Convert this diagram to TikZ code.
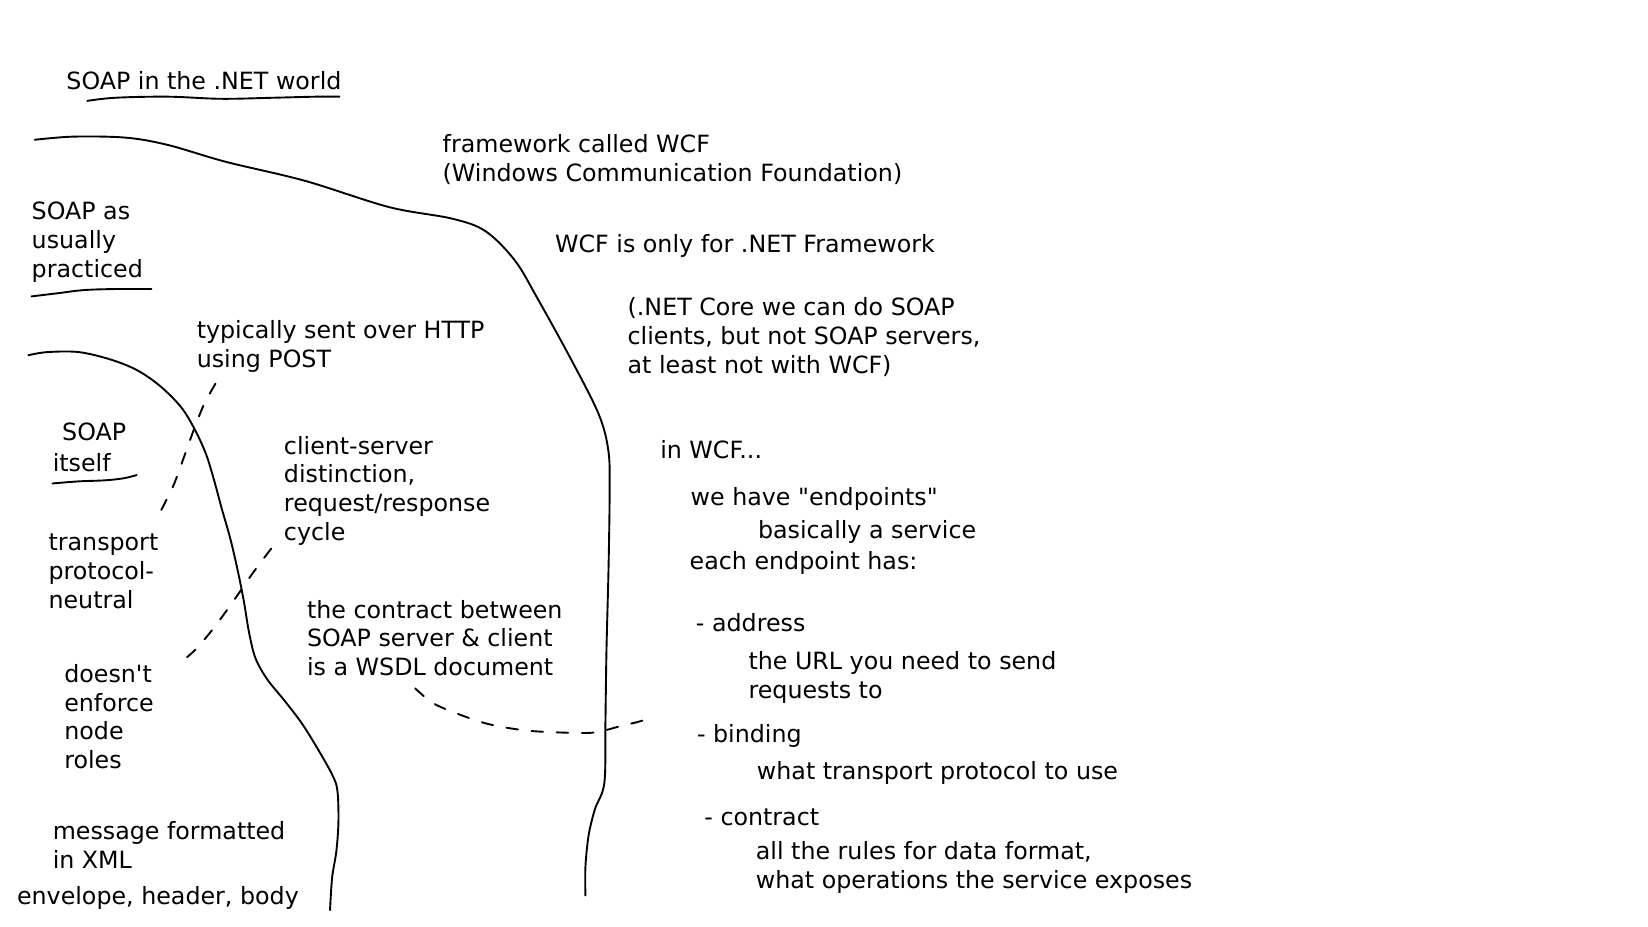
\documentclass[tikz,border=0pt]{standalone}
\usepackage{fontspec}
\setmainfont{DejaVu Sans}[Ligatures=TeXOff]
\begin{document}
\begin{tikzpicture}[x=1pt,y=-1pt,
  txt/.style={anchor=base west,inner sep=0pt,align=left,font=\fontsize{22.6pt}{27.5pt}\selectfont},
  pen/.style={line width=1.8pt,line cap=round,line join=round},
  dsh/.style={pen,dash pattern=on 11pt off 13pt}]
\useasboundingbox[fill=white] (0,0) rectangle (1568,882);
% texts (anchor = baseline of last line)
\node[txt] (t1) at (63,85) {SOAP in the .NET world};
\node[txt] (t2) at (421,172.5) {framework called WCF\\(Windows Communication Foundation)};
\node[txt] (t3) at (528,240) {WCF is only for .NET Framework};
\node[txt] (t4) at (597,355) {(.NET Core we can do SOAP\\clients, but not SOAP servers,\\at least not with WCF)};
\node[txt] (t5) at (30,264) {SOAP as\\usually\\practiced};
\node[txt] (t6) at (187,349.5) {typically sent over HTTP\\using POST};
\node[txt] (t7a) at (59,419) {SOAP};
\node[txt] (t7b) at (50,449) {itself};
\node[txt] (t8) at (270,514.5) {client-server\\distinction,\\request/response\\cycle};
\node[txt] (t9) at (46,579) {transport\\protocol-\\neutral};
\node[txt] (t10) at (292,643) {the contract between\\SOAP server \& client\\is a WSDL document};
\node[txt] (t11) at (61,731.5) {doesn't\\enforce\\node\\roles};
\node[txt] (t12) at (50,826.5) {message formatted\\in XML};
\node[txt] (t13) at (16,861) {envelope, header, body};
\node[txt] (t14) at (628,436) {in WCF...};
\node[txt] (t15) at (657,481) {we have "endpoints"};
\node[txt] (t16) at (721,512) {basically a service};
\node[txt] (t17) at (656,542) {each endpoint has:};
\node[txt] (t18) at (662,601) {- address};
\node[txt] (t19) at (712,664.5) {the URL you need to send\\requests to};
\node[txt] (t20) at (663,706) {- binding};
\node[txt] (t21) at (720,742) {what transport protocol to use};
\node[txt] (t22) at (670,785) {- contract};
\node[txt] (t23) at (719,845.5) {all the rules for data format,\\what operations the service exposes};
% underlines
\draw[pen] plot[smooth,tension=0.6] coordinates {(83,96) (110,93) (160,92) (210,94) (260,93) (300,92) (323,92)};
\draw[pen] plot[smooth,tension=0.6] coordinates {(30,282) (55,279) (80,276) (110,275) (144,275)};
\draw[pen] plot[smooth,tension=0.6] coordinates {(50,460) (75,458) (100,457) (118,455) (130,452)};
% big curve
\draw[pen] plot[smooth,tension=0.55] coordinates {(33,133) (70,130) (120,131) (160,138) (215,154) (290,172) (370,197) (430,208) (462,220) (490,248) (512,285) (545,345) (570,395) (579,430) (580,470) (579,540) (577,620) (576,690) (575,745) (566,770) (560,795) (557,825) (557,852)};
% inner curve
\draw[pen] plot[smooth,tension=0.55] coordinates {(27,338) (45,335) (75,335) (105,342) (130,352) (152,367) (172,387) (185,408) (196,432) (204,458) (211,484) (219,512) (226,542) (232,572) (237,602) (243,626) (254,646) (271,667) (287,688) (302,712) (316,737) (321,752) (322,782) (320,810) (316,835) (314,866)};
% dashed connectors
\draw[dsh] plot[smooth,tension=0.5] coordinates {(205,365) (194,385) (184,410) (175,435) (165,462) (152,488)};
\draw[dsh] plot[smooth,tension=0.5] coordinates {(258,522) (240,546) (222,572) (203,598) (186,618) (170,632)};
\draw[dsh] plot[smooth,tension=0.5] coordinates {(395,655) (412,669) (435,679) (465,689) (500,695) (535,697) (565,697) (590,691) (610,686) (623,681)};
\end{tikzpicture}
\end{document}
